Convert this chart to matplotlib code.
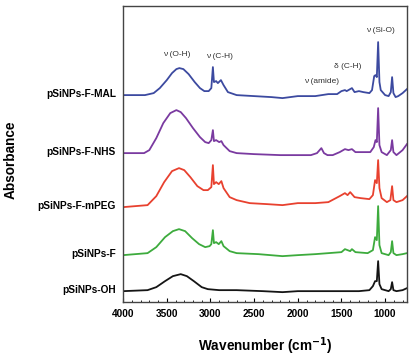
import matplotlib
matplotlib.use("Agg")
import matplotlib.pyplot as plt
from matplotlib.ticker import MultipleLocator
import matplotlib.transforms as mtransforms

plt.rcParams['font.family'] = ['Liberation Sans', 'DejaVu Sans']

# spectra: wavenumber (cm-1) and height above each trace's baseline
wn_oh = [4000, 3720, 3620, 3520, 3430, 3340, 3270, 3190, 3100, 3030, 2900, 2700, 2400,
         2175, 2000, 1700, 1500, 1300, 1180, 1140, 1115, 1095, 1080, 1065, 1040, 960,
         935, 920, 905, 870, 800, 750]
ab_oh = [0, 0.01, 0.04, 0.10, 0.15, 0.17, 0.15, 0.10, 0.04, 0.02, 0.01, 0.01, 0,
         -0.01, 0, 0, 0, 0, 0.01, 0.05, 0.10, 0.10, 0.30, 0.07, 0.02, 0,
         0.02, 0.09, 0.01, 0, 0.01, 0.03]

wn_f = [4000, 3720, 3620, 3520, 3430, 3360, 3290, 3210, 3130, 3060, 3010, 2990, 2972,
        2960, 2935, 2905, 2875, 2850, 2780, 2700, 2450, 2175, 2000, 1800, 1650, 1500,
        1460, 1400, 1380, 1340, 1200, 1140, 1115, 1095, 1080, 1065, 1040, 960, 935,
        920, 905, 870, 800, 750]
ab_f = [0, 0.02, 0.08, 0.18, 0.24, 0.26, 0.24, 0.17, 0.11, 0.08, 0.09, 0.11, 0.25,
        0.12, 0.13, 0.11, 0.14, 0.09, 0.04, 0.02, 0.01, -0.01, 0, 0.01, 0.02, 0.03,
        0.06, 0.04, 0.06, 0.03, 0.02, 0.05, 0.18, 0.15, 0.49, 0.10, 0.02, 0, 0.03,
        0.14, 0.02, 0, 0.01, 0.02]

wn_peg = [4000, 3720, 3620, 3530, 3440, 3360, 3300, 3230, 3150, 3080, 3030, 2990, 2972,
          2960, 2935, 2905, 2875, 2850, 2780, 2700, 2550, 2350, 2175, 2000, 1800, 1650,
          1520, 1460, 1430, 1400, 1350, 1280, 1180, 1140, 1115, 1095, 1080, 1065, 1040,
          980, 940, 920, 905, 870, 800, 750]
ab_peg = [0, 0.02, 0.11, 0.25, 0.36, 0.39, 0.37, 0.30, 0.21, 0.17, 0.17, 0.20, 0.42,
          0.23, 0.25, 0.23, 0.26, 0.19, 0.10, 0.07, 0.04, 0.03, 0.02, 0.04, 0.04, 0.05,
          0.11, 0.14, 0.12, 0.15, 0.10, 0.09, 0.08, 0.12, 0.27, 0.24, 0.47, 0.19, 0.09,
          0.05, 0.07, 0.21, 0.07, 0.05, 0.07, 0.11]

wn_nhs = [4000, 3760, 3700, 3620, 3540, 3460, 3390, 3340, 3280, 3200, 3120, 3060, 3020,
          2990, 2972, 2960, 2935, 2900, 2875, 2850, 2780, 2700, 2500, 2200, 2000, 1850,
          1780, 1730, 1700, 1660, 1600, 1520, 1460, 1420, 1380, 1340, 1250, 1170, 1130,
          1110, 1095, 1080, 1065, 1040, 980, 935, 920, 905, 870, 800, 750]
ab_nhs = [0, 0, 0.03, 0.15, 0.30, 0.40, 0.43, 0.41, 0.35, 0.25, 0.16, 0.11, 0.10,
          0.13, 0.23, 0.12, 0.13, 0.11, 0.12, 0.08, 0.02, 0, -0.01, -0.02, -0.02, -0.02,
          0, 0.05, 0, -0.02, -0.02, 0.01, 0.04, 0.03, 0.04, 0.01, 0.01, 0.01, 0.06,
          0.13, 0.11, 0.45, 0.08, 0.01, -0.02, 0.03, 0.13, 0.01, -0.02, 0.03, 0.09]

wn_mal = [4000, 3750, 3650, 3580, 3500, 3440, 3390, 3356, 3310, 3250, 3180, 3120, 3070,
          3020, 2990, 2972, 2960, 2935, 2915, 2880, 2850, 2800, 2700, 2500, 2300, 2175,
          2000, 1800, 1650, 1550, 1500, 1460, 1440, 1400, 1380, 1350, 1300, 1250, 1180,
          1150, 1125, 1110, 1095, 1080, 1065, 1050, 1000, 960, 935, 920, 905, 880, 850,
          800, 750]
ab_mal = [0, 0, 0.02, 0.07, 0.15, 0.22, 0.26, 0.27, 0.26, 0.21, 0.13, 0.07, 0.04,
          0.04, 0.07, 0.28, 0.13, 0.14, 0.12, 0.15, 0.10, 0.03, 0, -0.01, -0.02, -0.03,
          -0.01, -0.01, 0.01, 0.01, 0.04, 0.05, 0.04, 0.06, 0.07, 0.03, 0.04, 0.03, 0.02,
          0.05, 0.19, 0.20, 0.18, 0.53, 0.13, 0.05, 0, -0.01, 0.03, 0.18, 0.02, -0.02,
          -0.01, 0.02, 0.06]

names = ['pSiNPs-OH', 'pSiNPs-F', 'pSiNPs-F-mPEG', 'pSiNPs-F-NHS', 'pSiNPs-F-MAL']
wns = [wn_oh, wn_f, wn_peg, wn_nhs, wn_mal]
abs_ = [ab_oh, ab_f, ab_peg, ab_nhs, ab_mal]
offsets = [0.11, 0.47, 0.95, 1.49, 2.07]
colors = ['#151515', '#3dab3d', '#e8412f', '#7a3aa0', '#3c4aa0']

bands = ['ν (O-H)', 'ν (C-H)', 'ν (amide)', 'δ (C-H)', 'ν (Si-O)']
band_x = [3390, 2897, 1724, 1425, 1057]
band_y = [2.48, 2.46, 2.21, 2.36, 2.72]

fig = plt.figure(figsize=(4.09, 3.58), dpi=100)
ax = fig.add_axes([0.301, 0.156, 0.694, 0.827])

for w, a, off, c in zip(wns, abs_, offsets, colors):
    ax.plot(w, [v + off for v in a], color=c, lw=1.3)

trans = mtransforms.blended_transform_factory(ax.transAxes, ax.transData)
for n, off in zip(names, offsets):
    ax.text(-0.025, off + 0.01, n, transform=trans, ha='right', va='center',
            fontsize=7.3, fontweight='bold')

for t, x, y in zip(bands, band_x, band_y):
    ax.text(x, y, t, ha='center', va='center', fontsize=6.0, color='#333333')

ax.set_xlim(4000, 750)
ax.set_ylim(0, 2.96)
ax.set_yticks([])
ax.xaxis.set_major_locator(MultipleLocator(500))
ax.xaxis.set_minor_locator(MultipleLocator(100))
ax.tick_params(axis='x', which='major', direction='in', length=3, width=0.8, pad=5,
               labelsize=7.3)
ax.tick_params(axis='x', which='minor', direction='in', length=1.6, width=0.6)
for lab in ax.get_xticklabels():
    lab.set_fontweight('bold')
for s in ax.spines.values():
    s.set_color('#444444')
    s.set_linewidth(1.0)

ax.set_xlabel('Wavenumber (cm$^{\\mathbf{-1}}$)', fontsize=9.8, fontweight='bold',
              labelpad=12)
fig.text(0.026, 0.553, 'Absorbance', rotation=90, ha='center', va='center',
         fontsize=9.8, fontweight='bold')

fig.savefig('out.png', dpi=100, facecolor='white')
